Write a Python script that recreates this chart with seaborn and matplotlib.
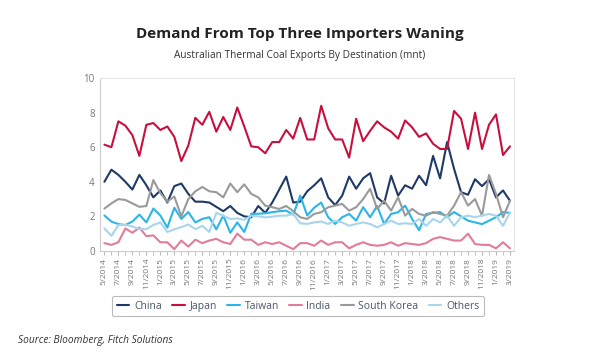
import pandas as pd
import matplotlib.pyplot as plt
import seaborn as sns
import numpy as np

sns.set_style("white")
plt.rcParams['font.family'] = ['Open Sans', 'DejaVu Sans']

# Months 5/2014 - 3/2019
months = pd.date_range('2014-05-01', '2019-03-01', freq='MS')
month_labels = [f"{d.month}/{d.year}" for d in months]

china = [4.0, 4.7, 4.4, 4.0, 3.55, 4.4, 3.8, 3.1, 3.5, 2.8, 3.75, 3.9, 3.3, 2.85, 2.85,
         2.8, 2.55, 2.3, 2.6, 2.2, 2.0, 1.95, 2.6, 2.2, 2.8, 3.55, 4.3, 2.8, 2.85, 3.45,
         3.8, 4.2, 3.1, 2.65, 3.2, 4.3, 3.6, 4.2, 4.5, 3.1, 2.75, 4.35, 3.2, 3.8, 3.6,
         4.35, 3.8, 5.5, 4.2, 6.3, 4.75, 3.4, 3.25, 4.15, 3.75, 4.15, 3.1, 3.5, 2.9]
japan = [6.15, 6.0, 7.5, 7.25, 6.7, 5.5, 7.3, 7.4, 7.0, 7.2, 6.6, 5.2, 6.1, 7.7, 7.3,
         8.05, 6.9, 7.75, 7.0, 8.3, 7.2, 6.05, 6.0, 5.65, 6.3, 6.3, 7.0, 6.5, 7.7, 6.45,
         6.45, 8.4, 7.1, 6.45, 6.45, 5.4, 7.65, 6.35, 6.95, 7.5, 7.15, 6.9, 6.5, 7.55, 7.15,
         6.6, 6.8, 6.2, 5.9, 5.9, 8.1, 7.65, 5.9, 8.0, 5.9, 7.3, 7.9, 5.55, 6.05]
taiwan = [2.05, 1.7, 1.55, 1.5, 1.7, 2.1, 1.65, 2.45, 2.05, 1.35, 2.5, 1.85, 2.25, 1.65, 1.85,
          1.95, 1.25, 2.05, 1.05, 1.65, 1.1, 2.15, 2.15, 2.18, 2.24, 2.3, 2.33, 2.1, 3.2, 2.05,
          2.5, 2.8, 1.95, 1.56, 1.95, 2.14, 1.75, 2.53, 1.95, 2.6, 1.56, 2.14, 2.24, 2.62, 1.85,
          1.2, 2.14, 2.2, 2.25, 1.95, 2.25, 2.0, 1.75, 1.65, 1.55, 1.75, 1.95, 2.25, 2.2]
india = [0.45, 0.35, 0.5, 1.3, 1.05, 1.35, 0.85, 0.9, 0.5, 0.5, 0.1, 0.6, 0.25, 0.65, 0.45,
         0.6, 0.7, 0.5, 0.4, 1.0, 0.65, 0.65, 0.35, 0.5, 0.4, 0.5, 0.3, 0.1, 0.45, 0.45,
         0.3, 0.6, 0.35, 0.5, 0.5, 0.15, 0.35, 0.5, 0.35, 0.3, 0.35, 0.5, 0.3, 0.45, 0.4,
         0.35, 0.45, 0.7, 0.8, 0.7, 0.6, 0.6, 1.0, 0.4, 0.35, 0.35, 0.15, 0.5, 0.15]
south_korea = [2.45, 2.75, 3.0, 2.95, 2.75, 2.55, 2.6, 4.1, 3.35, 2.85, 3.15, 2.0, 3.0, 3.45, 3.7,
               3.45, 3.4, 3.1, 3.9, 3.4, 3.85, 3.3, 3.1, 2.62, 2.53, 2.43, 2.6, 2.3, 1.95, 1.85,
               2.14, 2.24, 2.53, 2.62, 2.72, 2.33, 2.53, 3.0, 3.6, 2.43, 2.9, 2.33, 3.1, 2.04, 2.43,
               2.14, 2.04, 2.25, 2.14, 2.04, 2.62, 3.4, 2.62, 3.0, 2.04, 4.4, 3.3, 1.95, 2.9]
others = [1.3, 0.87, 1.5, 1.5, 1.42, 1.26, 1.26, 1.5, 1.65, 1.1, 1.25, 1.38, 1.53, 1.26, 1.45,
          1.1, 2.2, 2.04, 1.85, 1.88, 1.8, 2.04, 2.0, 1.94, 1.98, 2.04, 2.04, 2.14, 1.6, 1.56,
          1.65, 1.7, 1.56, 1.75, 1.65, 1.46, 1.56, 1.65, 1.56, 1.36, 1.56, 1.75, 1.56, 1.6, 1.56,
          1.85, 1.45, 1.85, 1.65, 2.04, 1.45, 1.95, 2.04, 1.95, 2.04, 2.14, 2.04, 1.45, 2.23]

series = {'China': china, 'Japan': japan, 'Taiwan': taiwan, 'India': india,
          'South Korea': south_korea, 'Others': others}
colors = {'China': '#1f3a66', 'Japan': '#c8103e', 'Taiwan': '#2cb5e6', 'India': '#e07d98',
          'South Korea': '#9a9a9a', 'Others': '#a9d5ec'}

df = pd.DataFrame(series)
df['idx'] = np.arange(len(month_labels))
long_df = df.melt(id_vars='idx', var_name='Destination', value_name='mnt')

fig = plt.figure(figsize=(6, 3.6), dpi=100)
ax = fig.add_axes([0.167, 0.303, 0.69, 0.48])
sns.lineplot(data=long_df, x='idx', y='mnt', hue='Destination', palette=colors,
             hue_order=list(series.keys()), linewidth=1.5, ax=ax)

ax.set_xlim(-0.6, len(month_labels) - 0.4)
ax.set_ylim(0, 10)
ax.set_yticks(range(0, 11, 2))
ax.set_xticks(np.arange(len(month_labels)), minor=True)
ax.set_xticks(np.arange(0, len(month_labels), 2))
ax.set_xticklabels(month_labels[::2], rotation=90)
ax.tick_params(axis='x', which='both', direction='out', length=3, color='#bbbbbb',
               labelsize=6, labelcolor='#777777', bottom=True, pad=2)
ax.tick_params(axis='y', labelsize=7, labelcolor='#777777', length=0, pad=4)
ax.set_xlabel('')
ax.set_ylabel('')
for side in ['top', 'right']:
    ax.spines[side].set_color('#e6e6e6')
for side in ['left', 'bottom']:
    ax.spines[side].set_color('#cccccc')

leg = ax.legend(loc='center', bbox_to_anchor=(0.478, -0.32), ncol=6, frameon=True,
                fontsize=7.5, handlelength=1.2, handletextpad=0.45, columnspacing=1.0,
                borderpad=0.45, fancybox=True)
leg.get_frame().set_edgecolor('#aaaaaa')
leg.get_frame().set_linewidth(0.8)
for t in leg.get_texts():
    t.set_color('#4a5568')

fig.text(0.5, 0.905, 'Demand From Top Three Importers Waning', ha='center', va='center',
         fontsize=11, fontweight='bold', color='#222222')
fig.text(0.5, 0.847, 'Australian Thermal Coal Exports By Destination (mnt)', ha='center',
         va='center', fontsize=7.3, color='#333333')
fig.text(0.03, 0.055, 'Source: Bloomberg, Fitch Solutions', ha='left', va='center',
         fontsize=7.3, style='italic', color='#333333')

plt.savefig('out.png', dpi=100)
plt.close()
